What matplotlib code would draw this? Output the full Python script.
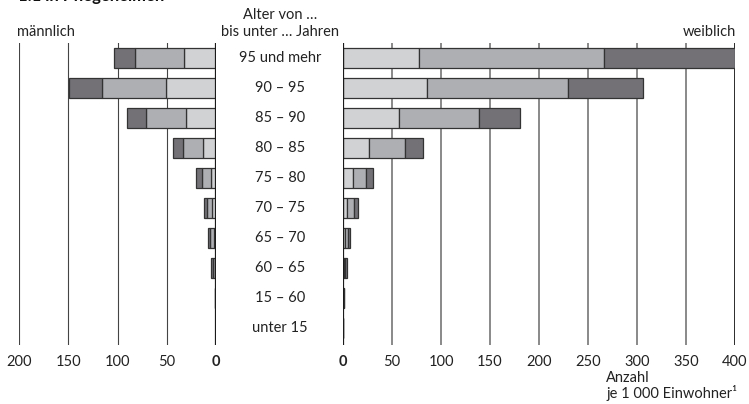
import matplotlib
matplotlib.use("Agg")
import matplotlib.pyplot as plt
import numpy as np

plt.rcParams['font.family'] = ['Lato', 'DejaVu Sans']

age_groups = ["95 und mehr", "90 – 95", "85 – 90", "80 – 85", "75 – 80",
              "70 – 75", "65 – 70", "60 – 65", "15 – 60", "unter 15"]

# male segments (from 0 outward): light, medium, dark
male_light = [32, 51, 30, 13.5, 5.5, 4.5, 2.5, 1.5, 0.3, 0.2]
male_medium = [50, 65, 41, 20, 9, 4.5, 3.3, 2.0, 0.3, 0.1]
male_dark = [22, 33, 19, 10, 5.5, 3, 2, 1.5, 0.2, 0.1]

female_light = [77.5, 86, 57, 27, 10, 4.4, 2, 1, 0.4, 0.2]
female_medium = [188.5, 144, 82, 36, 13.5, 6.5, 3, 1.5, 0.4, 0.2]
female_dark = [134, 76, 42, 19, 7.5, 4, 2, 1.5, 0.3, 0.1]

male_ticks = [200, 150, 100, 50, 0]
female_ticks = [0, 50, 100, 150, 200, 250, 300, 350, 400]

c_light, c_med, c_dark = "#d1d2d4", "#aeafb2", "#737176"
edge = "#333333"

W, H = 749, 404
fig = plt.figure(figsize=(W / 100, H / 100), dpi=100)

def fx(px):
    return px / W

def fy(py):
    return 1 - py / H

top_px, bot_px = 43, 345
axL = fig.add_axes([fx(19), fy(bot_px), fx(216 - 19), (bot_px - top_px) / H])
axR = fig.add_axes([fx(343), fy(bot_px), fx(735 - 343), (bot_px - top_px) / H])

y = np.arange(len(age_groups))
bh = 0.65

for ax, segs, xmax, gcol, glw in [
    (axL, (male_light, male_medium, male_dark), 200, "#444444", 0.8),
    (axR, (female_light, female_medium, female_dark), 400, "#808080", 1.3)]:
    left = np.zeros(len(age_groups))
    for vals, col in zip(segs, (c_light, c_med, c_dark)):
        ax.barh(y, vals, left=left, height=bh, color=col, edgecolor=edge,
                linewidth=0.9, zorder=3)
        left = left + np.array(vals)
    ax.set_xlim(0, xmax)
    ax.set_ylim(len(age_groups) - 1 + 0.57, -0.5)
    for s in ax.spines.values():
        s.set_visible(False)
    ax.set_yticks([])
    ax.tick_params(axis='x', length=0, pad=7, labelsize=10.5, colors="#222222")
    for t in range(50, xmax + 1, 50):
        col = "#1a1a1a" if t == xmax and ax is axR else gcol
        lw = 1.3 if t == xmax and ax is axR else glw
        ax.axvline(t, color=col, lw=lw, zorder=1)
    ax.axvline(0, color="#1a1a1a", lw=1.6, zorder=4)
    ax.patch.set_alpha(0)

axL.invert_xaxis()
axL.set_xticks(male_ticks)
axL.set_xticklabels([str(t) for t in male_ticks])
axR.set_xticks(female_ticks)
axR.set_xticklabels([str(t) for t in female_ticks])
for lab in axL.get_xticklabels():
    if lab.get_text() == "0":
        lab.set_fontweight("bold")
for lab in axR.get_xticklabels():
    if lab.get_text() == "0":
        lab.set_fontweight("bold")

# age labels in the middle
for i, g in enumerate(age_groups):
    fig.text(fx(280), fy(58 + 30 * i), g, ha="center", va="center",
             fontsize=10.5, color="#222222")

fig.text(fx(280), fy(15), "Alter von …", ha="center", va="center",
         fontsize=10.5, color="#222222")
fig.text(fx(280), fy(32), "bis unter … Jahren", ha="center", va="center",
         fontsize=10.5, color="#222222")
fig.text(fx(17), fy(32), "männlich", ha="left", va="center",
         fontsize=10.5, color="#222222")
fig.text(fx(736), fy(32), "weiblich", ha="right", va="center",
         fontsize=10.5, color="#222222")
fig.text(fx(606), fy(378), "Anzahl", ha="left", va="center",
         fontsize=10.5, color="#222222")
fig.text(fx(606), fy(393), "je 1 000 Einwohner¹", ha="left", va="center",
         fontsize=10.5, color="#222222")
fig.text(fx(18), fy(-4), "1.1 in Pflegeheimen", ha="left", va="center",
         fontsize=12, fontweight="bold", color="#111111")

fig.savefig("out.png", dpi=100)
